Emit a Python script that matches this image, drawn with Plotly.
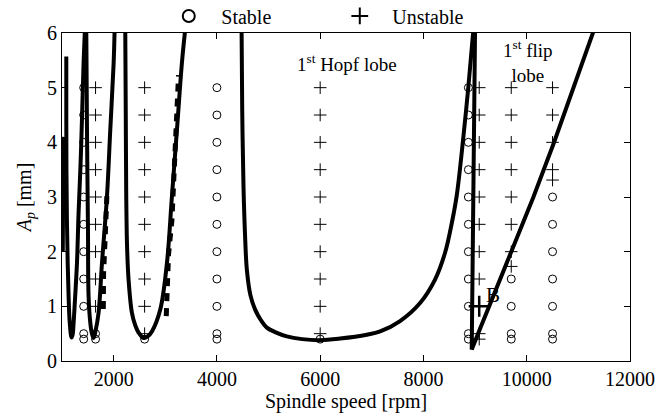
import plotly.graph_objects as go

# ---------------- data ----------------
# stability lobe boundaries (spindle speed [rpm], Ap [mm])
edge_rpm = [1015, 1019, 1023, 1027]
edge_ap = [2.0, 2.7, 3.4, 4.1]

lobe1_rpm = [1083, 1083, 1086, 1095, 1110, 1128, 1150, 1185, 1205, 1225, 1250, 1290, 1321, 1360, 1390, 1418, 1445]
lobe1_ap = [5.57, 4.5, 3.5, 2.6, 1.8, 1.18, 0.7, 0.43, 0.48, 0.7, 1.1, 1.79, 2.71, 3.62, 4.53, 5.45, 6.1]

lobe2_rpm = [1470, 1484, 1503, 1515, 1548, 1580, 1612, 1650, 1708, 1774, 1871, 1935, 2000, 2020]
lobe2_ap = [6.1, 4.23, 2.4, 1.18, 0.7, 0.5, 0.42, 0.55, 0.88, 1.79, 3.01, 4.23, 5.45, 6.1]

lobe2_dash_rpm = [1800, 1805, 1838, 1871]
lobe2_dash_ap = [0.95, 1.6, 2.3, 3.07]

lobe3_rpm = [2225, 2235, 2244, 2260, 2289, 2354, 2420, 2483, 2580, 2660, 2742, 2903, 3032, 3129, 3226, 3322, 3390]
lobe3_ap = [6.1, 4.5, 3.01, 2.1, 1.49, 0.88, 0.65, 0.52, 0.42, 0.45, 0.54, 0.94, 1.79, 3.01, 4.23, 5.45, 6.1]

lobe3_dash_rpm = [3019, 3032, 3063, 3129, 3160, 3193, 3206, 3226, 3257]
lobe3_dash_ap = [0.82, 1.43, 1.95, 2.58, 3.22, 3.71, 4.23, 4.75, 5.23]

hopf_rpm = [4478, 4490, 4515, 4545, 4580, 4650, 4741, 4850, 4967, 5150, 5354, 5650, 6000,
            6386, 6903, 7161, 7547, 7934, 8224, 8418, 8548, 8645, 8773, 8870, 8966]
hopf_ap = [6.05, 4.6, 3.19, 2.3, 1.67, 1.2, 0.94, 0.75, 0.61, 0.52, 0.45, 0.40, 0.38,
           0.41, 0.48, 0.54, 0.73, 1.06, 1.49, 1.98, 2.52, 3.03, 4.1, 5.02, 6.05]

flip_rpm = [8999, 8980, 8966, 8952, 8935, 9100, 9483, 9690, 10130, 10530, 10910, 11300]
flip_ap = [6.05, 4.5, 3.3, 1.5, 0.21, 0.6, 1.49, 2.0, 3.0, 4.0, 5.0, 6.05]

# cutting test points
rows = [0.4, 0.5, 1.0, 1.5, 2.0, 2.5, 3.0, 3.5, 4.0, 4.5, 5.0]
upper_rows = [1.0, 1.5, 2.0, 2.5, 3.0, 3.5, 4.0, 4.5, 5.0]

stable_cols = {
    1420: rows,
    1650: [0.4, 0.5],
    2600: [0.4],
    4000: rows,
    6000: [0.4],
    8870: rows,
    9700: [0.4, 0.5, 1.0, 1.5],
    10500: [0.4, 0.5, 1.0, 1.5, 2.0, 2.5, 3.0],
}
unstable_cols = {
    1650: upper_rows,
    2600: [0.5] + upper_rows,
    6000: [0.5] + upper_rows,
    9080: [0.4, 0.5, 1.5, 2.0, 2.5, 3.0, 3.5, 4.0, 4.5, 5.0],
    9700: [1.73, 2.0, 2.5, 3.0, 3.5, 4.0, 4.5, 5.0],
    10500: [3.31, 3.5, 4.0, 4.5, 5.0],
}
point_b_rpm = [9080]
point_b_ap = [1.0]

x_ticks = [2000, 4000, 6000, 8000, 10000, 12000]
y_ticks = [0, 1, 2, 3, 4, 5, 6]

FONT = "Liberation Serif, Times New Roman, serif"

fig = go.Figure()

line_style = dict(color="black", width=4, shape="spline", smoothing=1.0)
for xs, ys in [(edge_rpm, edge_ap), (lobe1_rpm, lobe1_ap), (lobe2_rpm, lobe2_ap),
               (lobe3_rpm, lobe3_ap), (hopf_rpm, hopf_ap)]:
    fig.add_trace(go.Scatter(x=xs, y=ys, mode="lines", line=line_style,
                             showlegend=False, hoverinfo="skip"))
fig.add_trace(go.Scatter(x=flip_rpm, y=flip_ap, mode="lines",
                         line=dict(color="black", width=4),
                         showlegend=False, hoverinfo="skip"))
for xs, ys in [(lobe2_dash_rpm, lobe2_dash_ap), (lobe3_dash_rpm, lobe3_dash_ap)]:
    fig.add_trace(go.Scatter(x=xs, y=ys, mode="lines",
                             line=dict(color="black", width=5, dash="8px,7px"),
                             showlegend=False, hoverinfo="skip"))

sx, sy = [], []
for c, rr in stable_cols.items():
    sx += [c] * len(rr)
    sy += rr
ux, uy = [], []
for c, rr in unstable_cols.items():
    ux += [c] * len(rr)
    uy += rr

fig.add_trace(go.Scatter(x=sx, y=sy, mode="markers", name="Stable",
                         marker=dict(symbol="circle-open", size=8, color="black",
                                     line=dict(width=1, color="black"))))
fig.add_trace(go.Scatter(x=ux, y=uy, mode="markers", name="Unstable",
                         marker=dict(symbol="cross-thin-open", size=9, color="black",
                                     line=dict(width=1, color="black"))))
fig.add_trace(go.Scatter(x=point_b_rpm, y=point_b_ap, mode="markers", showlegend=False,
                         marker=dict(symbol="cross-thin-open", size=15, color="black",
                                     line=dict(width=2.5, color="black"))))

fig.add_annotation(x=6516, y=5.45, text="1<sup>st</sup> Hopf lobe", showarrow=False,
                   font=dict(family=FONT, size=19, color="black"))
fig.add_annotation(x=10030, y=5.47, text="1<sup>st</sup> flip<br>lobe", showarrow=False,
                   align="center", font=dict(family=FONT, size=19, color="black"))
fig.add_annotation(x=9340, y=1.21, text="B", showarrow=False,
                   font=dict(family=FONT, size=21, color="black"))

axis_common = dict(showline=True, linecolor="black", linewidth=1, mirror="ticks",
                   ticks="inside", ticklen=6, tickcolor="black", showgrid=False,
                   zeroline=False, tickfont=dict(family=FONT, size=20, color="black"))

fig.update_xaxes(range=[1000, 12000], tickvals=x_ticks, tickformat="d",
                 title=dict(text="Spindle speed [rpm]", font=dict(family=FONT, size=20, color="black"),
                            standoff=3),
                 **axis_common)
fig.update_yaxes(range=[0, 6], tickvals=y_ticks,
                 title=dict(text="<i>A</i><sub><i>p</i></sub> [mm]",
                            font=dict(family=FONT, size=20, color="black"), standoff=10),
                 **axis_common)

fig.update_layout(
    width=668, height=418,
    margin=dict(l=62, r=38, t=33, b=57, autoexpand=False),
    paper_bgcolor="white", plot_bgcolor="white",
    font=dict(family=FONT, size=20, color="black"),
    legend=dict(orientation="h", x=0.166, y=1.052, xanchor="left", yanchor="middle",
                itemsizing="constant", itemwidth=55, entrywidth=101, entrywidthmode="pixels",
                font=dict(family=FONT, size=20, color="black"), bgcolor="rgba(0,0,0,0)"),
)

fig.write_html("out.html", config={"displayModeBar": False},
               post_script="document.body.style.margin='0';document.body.style.overflow='hidden';")
